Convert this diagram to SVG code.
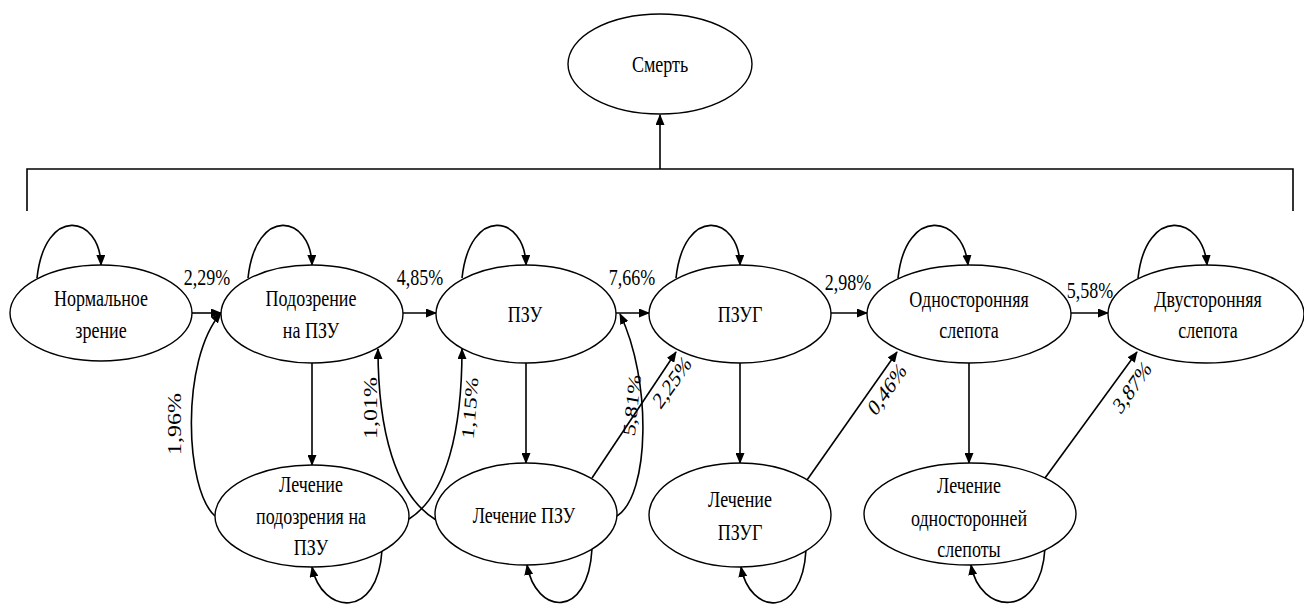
<svg xmlns="http://www.w3.org/2000/svg" width="1304" height="604" viewBox="0 0 1304 604">
<style>
.node ellipse{fill:#fff;stroke:#000;stroke-width:1.4}
.t{font-family:'Liberation Serif',serif;font-size:24px;fill:#000;text-anchor:middle}
.c path{fill:none;stroke:#000;stroke-width:1.6}
.a{marker-end:url(#ah)}
</style>
<defs>
<marker id="ah" markerWidth="11" markerHeight="9" refX="10" refY="4.5" orient="auto" markerUnits="userSpaceOnUse">
<path d="M0,0 L11,4.5 L0,9 z" fill="#000"/>
</marker>
</defs>
<rect width="1304" height="604" fill="#fff"/>

<g class="c" id="connectors" font-family="Liberation Serif, serif">
<path d="M27,211 V169 H1293 V211"/>
<path class="a" d="M660,169 V115"/>
<path class="a" d="M192,313 H221"/>
<path class="a" d="M403,313 H436"/>
<path class="a" d="M616,313 H649"/>
<path class="a" d="M831,313 H867"/>
<path class="a" d="M1071,313 H1108"/>
<path class="a" d="M312,363 V465"/>
<path class="a" d="M526,363 V463"/>
<path class="a" d="M740,363 V463"/>
<path class="a" d="M969,363 V463"/>
<path class="a" d="M215,516 C185,490 180,360 221,313"/>
<path class="a" d="M436,520 C395,495 378,430 378,349"/>
<path class="a" d="M409,519 C447,495 462,430 462,349"/>
<path class="a" d="M617,516 C650,495 652,380 620,314"/>
<path class="a" d="M592,478 L676,352"/>
<path class="a" d="M807,480 L897,352"/>
<path class="a" d="M1045,478 L1137,352"/>
<path class="a" d="M37,278 C45,205 100,215 101,265"/>
<path class="a" d="M248,278 C256,205 311,215 312,265"/>
<path class="a" d="M462,278 C470,205 525,215 526,265"/>
<path class="a" d="M676,278 C684,205 739,215 740,265"/>
<path class="a" d="M898,278 C906,205 963,215 968,265"/>
<path class="a" d="M1138,278 C1146,205 1203,215 1207,265"/>
<path class="a" d="M382,550 C378,620 322,615 312,567"/>
<path class="a" d="M592,549 C588,620 536,615 527,565"/>
<path class="a" d="M806,550 C802,620 750,615 741,567"/>
<path class="a" d="M1045,548 C1041,620 980,615 971,565"/>
<text class="t" transform="translate(207,285) scale(0.75,1)">2,29%</text>
<text class="t" transform="translate(420,285) scale(0.75,1)">4,85%</text>
<text class="t" transform="translate(632,285) scale(0.75,1)">7,66%</text>
<text class="t" transform="translate(848,290) scale(0.75,1)">2,98%</text>
<text class="t" transform="translate(1090,298) scale(0.75,1)">5,58%</text>
<text class="t" transform="translate(175,424) scale(0.75,1) rotate(-90)" y="8">1,96%</text>
<text class="t" transform="translate(371,408) scale(0.75,1) rotate(-90)" y="8">1,01%</text>
<text class="t" transform="translate(470,408) scale(0.75,1) rotate(-84)" y="8">1,15%</text>
<text class="t" transform="translate(632,405) scale(0.75,1) rotate(-82)" y="8">5,81%</text>
<text class="t" transform="translate(672,382) scale(0.75,1) rotate(-47)" y="8">2,25%</text>
<text class="t" transform="translate(887,389) scale(0.75,1) rotate(-47)" y="8">0,46%</text>
<text class="t" transform="translate(1132,387) scale(0.75,1) rotate(-47)" y="8">3,87%</text>
</g>

<g class="node" id="death" font-family="Liberation Serif, serif"><ellipse cx="660" cy="64" rx="92" ry="50"/>
<text class="t" transform="translate(660,0) scale(0.75,1)"><tspan x="0" y="72">Смерть</tspan></text></g>

<g class="node" id="normal" font-family="Liberation Serif, serif"><ellipse cx="101" cy="313" rx="91" ry="48"/>
<text class="t" transform="translate(101,0) scale(0.75,1)"><tspan x="0" y="306">Нормальное</tspan><tspan x="0" y="338">зрение</tspan></text></g>

<g class="node" id="suspect" font-family="Liberation Serif, serif"><ellipse cx="312" cy="314" rx="91" ry="49"/>
<text class="t" transform="translate(311,0) scale(0.75,1)"><tspan x="0" y="306">Подозрение</tspan><tspan x="0" y="338">на ПЗУ</tspan></text></g>

<g class="node" id="pzu" font-family="Liberation Serif, serif"><ellipse cx="526" cy="314" rx="90" ry="49"/>
<text class="t" transform="translate(525,0) scale(0.75,1)"><tspan x="0" y="322">ПЗУ</tspan></text></g>

<g class="node" id="pzug" font-family="Liberation Serif, serif"><ellipse cx="740" cy="314" rx="91" ry="49"/>
<text class="t" transform="translate(740,0) scale(0.75,1)"><tspan x="0" y="322">ПЗУГ</tspan></text></g>

<g class="node" id="uni" font-family="Liberation Serif, serif"><ellipse cx="969" cy="314" rx="102" ry="49"/>
<text class="t" transform="translate(969,0) scale(0.75,1)"><tspan x="0" y="307">Односторонняя</tspan><tspan x="0" y="338">слепота</tspan></text></g>

<g class="node" id="bi" font-family="Liberation Serif, serif"><ellipse cx="1206" cy="314" rx="98" ry="49"/>
<text class="t" transform="translate(1208,0) scale(0.75,1)"><tspan x="0" y="307">Двусторонняя</tspan><tspan x="0" y="338">слепота</tspan></text></g>

<g class="node" id="t-suspect" font-family="Liberation Serif, serif"><ellipse cx="312" cy="516" rx="97" ry="51"/>
<text class="t" transform="translate(311,0) scale(0.75,1)"><tspan x="0" y="492">Лечение</tspan><tspan x="0" y="524">подозрения на</tspan><tspan x="0" y="555">ПЗУ</tspan></text></g>

<g class="node" id="t-pzu" font-family="Liberation Serif, serif"><ellipse cx="526" cy="514" rx="91" ry="51"/>
<text class="t" transform="translate(524,0) scale(0.75,1)"><tspan x="0" y="523">Лечение ПЗУ</tspan></text></g>

<g class="node" id="t-pzug" font-family="Liberation Serif, serif"><ellipse cx="740" cy="515" rx="91" ry="52"/>
<text class="t" transform="translate(740,0) scale(0.75,1)"><tspan x="0" y="507">Лечение</tspan><tspan x="0" y="540">ПЗУГ</tspan></text></g>

<g class="node" id="t-uni" font-family="Liberation Serif, serif"><ellipse cx="970" cy="514" rx="106" ry="51"/>
<text class="t" transform="translate(969,0) scale(0.75,1)"><tspan x="0" y="493">Лечение</tspan><tspan x="0" y="526">односторонней</tspan><tspan x="0" y="557">слепоты</tspan></text></g>
</svg>
